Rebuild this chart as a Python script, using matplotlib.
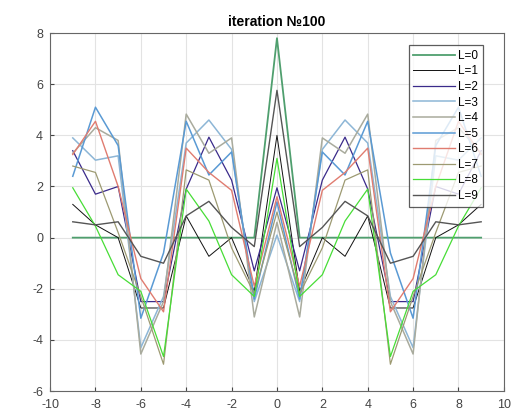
import matplotlib
matplotlib.use("Agg")
import matplotlib.pyplot as plt
import numpy as np

plt.rcParams['font.family'] = ['Liberation Sans', 'DejaVu Sans']
plt.rcParams['axes.unicode_minus'] = False

# x positions and the values of each L line
x = list(range(-9, 10))

L0 = [0, 0, 0, 0, 0, 0, 0, 0, 0, 7.8, 0, 0, 0, 0, 0, 0, 0, 0, 0]
L1 = [1.3, 0.5, 0.0, -2.75, -2.75, 0.85, -0.73, 0.0, -2.1, 4.0,
      -2.1, 0.0, -0.73, 0.85, -2.75, -2.75, 0.0, 0.5, 1.3]
L2 = [3.4, 1.7, 2.0, -2.5, -2.5, 1.9, 3.93, 2.25, -1.3, 1.95,
      -1.3, 2.25, 3.93, 1.9, -2.5, -2.5, 2.0, 1.7, 3.4]
L3 = [3.9, 3.03, 3.2, -4.3, -2.3, 3.7, 4.6, 3.45, -2.5, 0.1,
      -2.5, 3.45, 4.6, 3.7, -2.3, -4.3, 3.2, 3.03, 3.9]
L4 = [3.3, 4.3, 3.8, -4.55, -2.5, 4.83, 3.3, 3.9, -3.1, 0.6,
      -3.1, 3.9, 3.3, 4.83, -2.5, -4.55, 3.8, 4.3, 3.3]
L5 = [2.4, 5.1, 3.6, -3.15, -0.6, 4.55, 2.45, 3.35, -2.4, 1.4,
      -2.4, 3.35, 2.45, 4.55, -0.6, -3.15, 3.6, 5.1, 2.4]
L6 = [3.25, 4.55, 2.0, -1.6, -2.9, 3.5, 2.55, 1.85, -1.9, 1.6,
      -1.9, 1.85, 2.55, 3.5, -2.9, -1.6, 2.0, 4.55, 3.25]
L7 = [2.8, 2.55, 0.2, -2.3, -4.95, 2.65, 2.25, -0.4, -2.2, 1.0,
      -2.2, -0.4, 2.25, 2.65, -4.95, -2.3, 0.2, 2.55, 2.8]
L8 = [1.95, 0.45, -1.45, -2.1, -4.65, 1.9, 0.65, -1.45, -2.3, 3.1,
      -2.3, -1.45, 0.65, 1.9, -4.65, -2.1, -1.45, 0.45, 1.95]
L9 = [0.62, 0.5, 0.62, -0.73, -1.0, 0.85, 1.42, 0.4, -0.35, 5.76,
      -0.35, 0.4, 1.42, 0.85, -1.0, -0.73, 0.62, 0.5, 0.62]

series = [L0, L1, L2, L3, L4, L5, L6, L7, L8, L9]
labels = ["L=%d" % i for i in range(10)]
colors = ["#4f9f6e", "#111111", "#3a2a8a", "#8db6d6", "#a9ab9d",
          "#5a9ad4", "#e07c70", "#9d9a72", "#47dd36", "#555555"]
widths = [1.3, 0.7, 0.9, 1.1, 1.1, 1.1, 1.0, 0.9, 0.9, 1.0]

fig = plt.figure(figsize=(5.11, 4.13), dpi=100)
ax = fig.add_axes([0.098, 0.053, 0.888, 0.867])

for ys, lab, c, w in zip(series, labels, colors, widths):
    ax.plot(x, ys, color=c, lw=w, label=lab)

ax.set_xlim(-10, 10)
ax.set_ylim(-6, 8)
ax.set_xticks(np.arange(-10, 11, 2))
ax.set_yticks(np.arange(-6, 9, 2))
ax.grid(True, color="#e3e3e3", lw=0.8)
ax.set_axisbelow(True)
ax.tick_params(direction="in", colors="#444444", labelsize=9, length=3)
ax.tick_params(axis="x", pad=6)
ax.tick_params(axis="y", pad=5)
for s in ax.spines.values():
    s.set_color("#666666")
    s.set_linewidth(0.8)

ax.set_title("iteration №100", fontsize=10, fontweight="bold", pad=5)

leg = ax.legend(loc="upper right", bbox_to_anchor=(0.954, 0.966),
                fontsize=8.5, frameon=True, fancybox=False, borderpad=0.4,
                labelspacing=0.3, handlelength=3.5, handletextpad=0.3,
                borderaxespad=0)
leg.get_frame().set_edgecolor("#333333")
leg.get_frame().set_linewidth(0.9)

fig.savefig("out.png", dpi=100)
